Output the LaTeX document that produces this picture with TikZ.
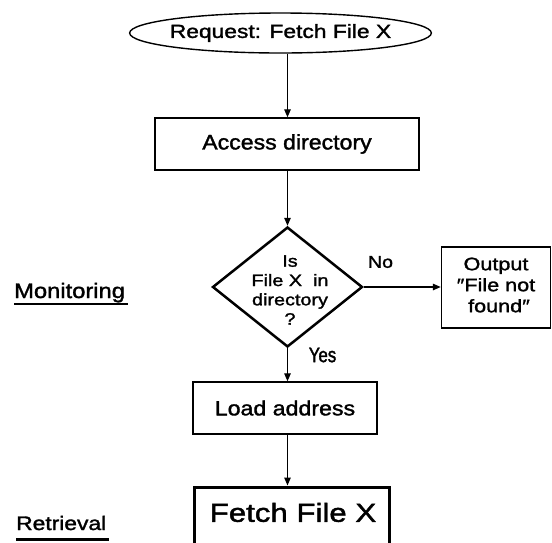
\documentclass[tikz,border=0pt]{standalone}
\usepackage{fontspec}
\setmainfont{Liberation Sans}
\usetikzlibrary{shapes.geometric,arrows.meta}
\begin{document}
\begin{tikzpicture}[x=1pt,y=-1pt,
  box/.style={draw, line width=1.4pt, inner sep=0pt},
  arr/.style={line width=1.3pt, -{Triangle[length=8pt,width=6.5pt]}},
  fnt/.style n args={3}{font=\fontsize{#1}{#2}\selectfont\addfontfeatures{FakeStretch=#3,FakeBold=1.6}},
  txt/.style={inner sep=0pt},
  uline/.style={line width=2.4pt}]
\useasboundingbox (0,0) rectangle (552,542);
\clip (0,0) rectangle (552,542);
% nodes
\node[ellipse, draw, line width=1.4pt, minimum width=295pt, minimum height=40pt, inner xsep=-4pt, inner ysep=0pt, fnt={19}{23}{1.2}] (req) at (280.5,33) {Request: Fetch File X};
\node[box, fnt={21}{25}{1.1}, minimum width=264pt, minimum height=52pt] (acc) at (287,144) {Access directory};
\node[diamond, draw, line width=2.5pt, minimum width=150pt, minimum height=120pt, inner sep=0pt] (dia) at (287.5,287) {};
\node[txt, align=center, fnt={16.5}{19.3}{1.2}] (diatext) at (290,290) {Is\\File X\ \ in\\directory\\?};
\node[box, minimum width=109pt, minimum height=81pt] (out) at (496,287.5) {};
\node[txt, align=center, fnt={18}{21}{1.2}] (outtext) at (496,285) {Output\\″File not\\\ found″};
\node[box, fnt={20.5}{24}{1.13}, minimum width=184pt, minimum height=52pt] (load) at (285,408) {Load address};
\node[draw, line width=3pt, minimum width=195pt, minimum height=70pt, inner sep=0pt] (fetch) at (291.5,522) {};
\node[txt, fnt={26}{30}{1.2}] (fetchtext) at (293,512.5) {Fetch File X};
% connectors
\draw[arr] (req.south -| dia.north) -- (acc.north -| dia.north);
\draw[arr] (acc.south -| dia.north) -- (dia.north);
\draw[arr] (dia.east) -- (out.west |- dia.east);
\draw[arr] (dia.south) -- (load.north -| dia.south);
\draw[arr] (load.south -| dia.south) -- (fetch.north -| dia.south);
% labels
\node[txt, fnt={17}{20}{1.15}] (no) at (380.5,262) {No};
\node[txt, fnt={21}{24}{0.8}] (yes) at (322.5,355) {Yes};
\node[txt, anchor=base west, fnt={21}{25}{1.13}] (mon) at (14,298) {Monitoring};
\draw[uline] ([yshift=-6pt]mon.base west) -- ([yshift=-6pt,xshift=3pt]mon.base east);
\node[txt, anchor=base west, fnt={19.5}{24}{1.17}] (ret) at (16,530) {Retrieval};
\draw[uline] ([yshift=-9.5pt]ret.base west) -- ([yshift=-9.5pt,xshift=3pt]ret.base east);
\end{tikzpicture}
\end{document}
